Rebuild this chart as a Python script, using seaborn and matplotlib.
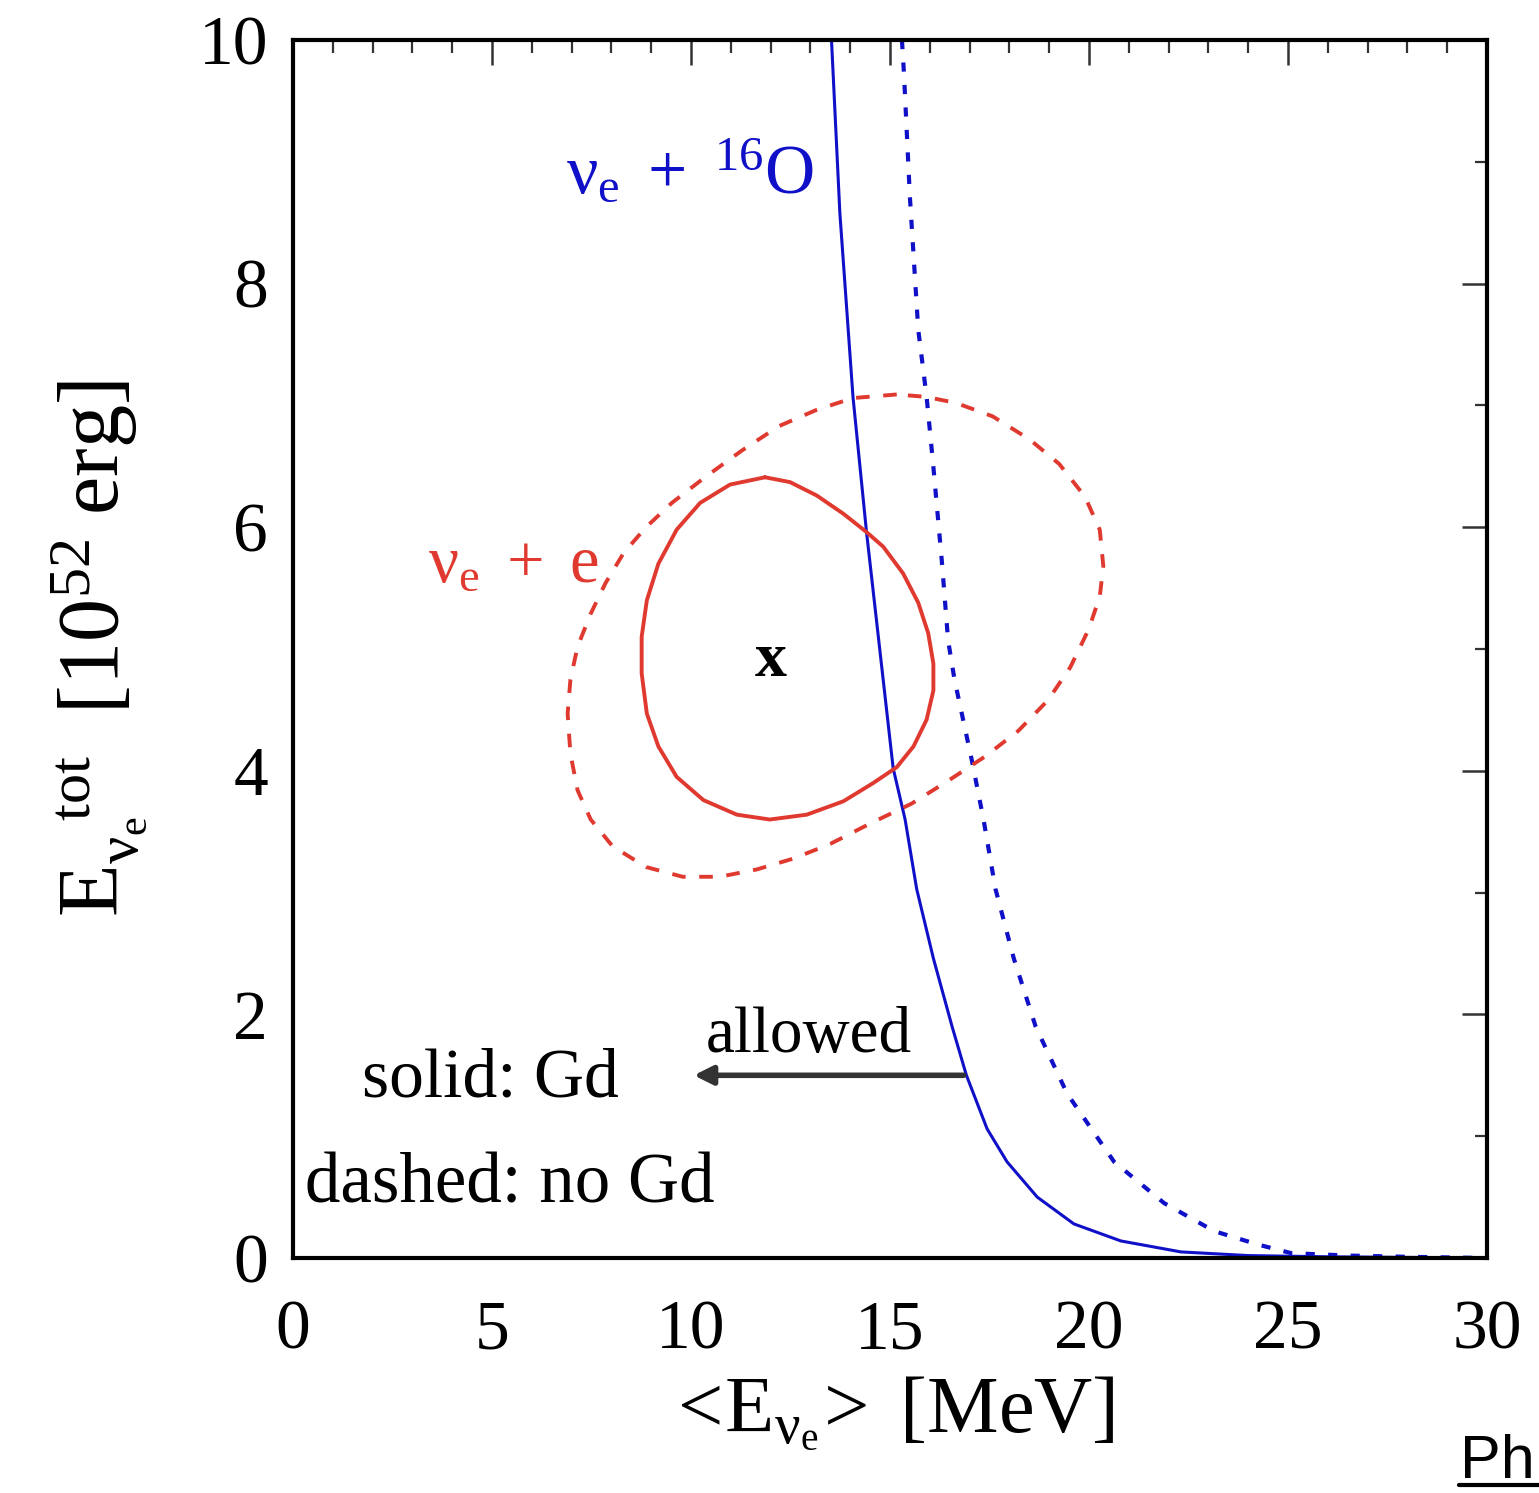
import matplotlib
matplotlib.use("Agg")
import matplotlib.pyplot as plt
import seaborn as sns
from matplotlib.lines import Line2D
from matplotlib.ticker import MultipleLocator

# === Data ===
# nu_e + 16O bound, with Gd (solid)
o16_gd_x = [13.53, 13.74, 14.07, 14.41, 15.08, 15.38, 15.67, 16.09, 16.56, 16.92, 17.44, 17.94, 18.70, 19.62,
            20.80, 22.31, 24.0, 26.0, 28.0, 30.0]
o16_gd_y = [10.0, 8.58, 7.07, 5.96, 4.02, 3.60, 3.03, 2.46, 1.90, 1.50, 1.06, 0.79, 0.50, 0.28,
            0.14, 0.05, 0.02, 0.01, 0.005, 0.0]

# nu_e + 16O bound, no Gd (dashed)
o16_nogd_x = [15.30, 15.35, 15.50, 15.71, 15.92, 16.08, 16.30, 16.46, 16.62, 17.06, 17.35, 17.65, 18.11, 18.66,
              19.45, 20.63, 21.89, 23.15, 24.25, 25.08, 26.5, 28.0, 30.0]
o16_nogd_y = [10.0, 9.73, 8.71, 7.62, 7.07, 6.53, 5.73, 5.07, 4.75, 4.08, 3.60, 3.03, 2.46, 1.90,
              1.35, 0.79, 0.45, 0.22, 0.11, 0.04, 0.02, 0.01, 0.0]

# nu_e + e contour, with Gd (solid)
es_gd_x = [11.86, 10.98, 10.23, 9.64, 9.18, 8.89, 8.76, 8.76, 8.89, 9.18, 9.64, 10.31, 11.15, 11.98, 12.91,
           13.83, 14.58, 15.17, 15.59, 15.92, 16.09, 16.09, 15.96, 15.71, 15.33, 14.83, 14.41, 13.83, 13.16,
           12.49, 11.86]
es_gd_y = [6.41, 6.35, 6.20, 5.98, 5.70, 5.40, 5.10, 4.80, 4.47, 4.20, 3.95, 3.76, 3.64, 3.60, 3.64,
           3.75, 3.90, 4.03, 4.20, 4.42, 4.66, 4.88, 5.13, 5.38, 5.62, 5.84, 5.96, 6.11, 6.26,
           6.37, 6.41]

# nu_e + e contour, no Gd (dashed)
es_nogd_x = [15.17, 14.06, 13.13, 12.21, 11.28, 10.35, 9.52, 8.87, 8.31, 7.85, 7.48, 7.15, 6.97, 6.90, 6.97, 7.15,
             7.48, 8.03, 8.87, 9.79, 10.72, 11.65, 12.58, 13.50, 14.52, 15.54, 16.47, 17.40, 18.23, 18.97, 19.53,
             19.99, 20.27, 20.36, 20.27, 19.90, 19.25, 18.51, 17.58, 16.66, 15.91, 15.17]
es_nogd_y = [7.09, 7.06, 6.96, 6.83, 6.63, 6.41, 6.20, 6.00, 5.79, 5.54, 5.29, 5.02, 4.75, 4.47, 4.14, 3.84,
             3.60, 3.38, 3.21, 3.13, 3.13, 3.19, 3.28, 3.40, 3.57, 3.73, 3.92, 4.12, 4.33, 4.58, 4.85,
             5.16, 5.43, 5.68, 5.98, 6.25, 6.52, 6.72, 6.91, 7.02, 7.07, 7.09]

best_fit = (12.0, 4.9)
allowed_y = 1.5
allowed_from = 16.92
allowed_to = 10.0

x_ticks = [0, 5, 10, 15, 20, 25, 30]
y_ticks = [0, 2, 4, 6, 8, 10]

blue = "#1010c8"
red = "#e03a30"

sns.set_theme(style="white")
plt.rcParams['font.family'] = ['Liberation Serif', 'DejaVu Serif']
plt.rcParams['mathtext.fontset'] = 'custom'
plt.rcParams['mathtext.rm'] = 'Liberation Serif'
plt.rcParams['mathtext.it'] = 'Liberation Serif:italic'
plt.rcParams['mathtext.bf'] = 'Liberation Serif:bold'
plt.rcParams['text.color'] = 'black'
plt.rcParams['axes.labelcolor'] = 'black'
plt.rcParams['xtick.labelcolor'] = 'black'
plt.rcParams['ytick.labelcolor'] = 'black'

fig = plt.figure(figsize=(15.39, 14.93), dpi=100)
ax = fig.add_axes([0.1904, 0.1574, 0.7758, 0.8158])

sns.lineplot(x=o16_gd_x, y=o16_gd_y, sort=False, estimator=None, color=blue, lw=2.2, ax=ax)
sns.lineplot(x=o16_nogd_x, y=o16_nogd_y, sort=False, estimator=None, color=blue, lw=3.0,
             linestyle=(0, (2.2, 3.2)), ax=ax)
sns.lineplot(x=es_gd_x, y=es_gd_y, sort=False, estimator=None, color=red, lw=2.8, ax=ax)
sns.lineplot(x=es_nogd_x, y=es_nogd_y, sort=False, estimator=None, color=red, lw=2.8,
             linestyle=(0, (3.5, 3.5)), ax=ax)
for ln in ax.get_lines():
    ln.set_solid_joinstyle('round')

ax.set_xlim(0, 30)
ax.set_ylim(0, 10)
ax.set_xticks(x_ticks)
ax.set_yticks(y_ticks)
ax.xaxis.set_minor_locator(MultipleLocator(1))
ax.yaxis.set_minor_locator(MultipleLocator(1))
ax.tick_params(which='both', direction='in', top=True, right=True, color='#333333')
ax.tick_params(which='major', length=18, width=1.8, labelsize=50, labelcolor='black')
ax.tick_params(which='minor', length=9, width=1.6)
ax.tick_params(axis='x', which='major', pad=30)
ax.tick_params(axis='y', which='major', pad=18)
for s in ax.spines.values():
    s.set_linewidth(3)
    s.set_color('black')

ax.set_xlabel(r'$\mathrm{<\!E_{ν_e}\!>\ [MeV]}$', fontsize=58, labelpad=8)
ax.set_ylabel(r'$\mathrm{E_{ν_e}^{\ \ \ tot}\ \ [10^{52}\ erg]}$', fontsize=62, labelpad=36)

# annotations
ax.text(13.1, 8.9, r'$\mathrm{ν_e\ +\ {}^{16}O}$', color=blue, fontsize=50, ha='right', va='center')
ax.text(7.7, 5.69, r'$\mathrm{ν_e\ +\ e}$', color=red, fontsize=48, ha='right', va='center')
ax.text(best_fit[0], best_fit[1], 'x', fontsize=46, fontweight='bold', ha='center', va='center')
ax.annotate('', xy=(allowed_to, allowed_y), xytext=(allowed_from, allowed_y),
            arrowprops=dict(arrowstyle='-|>', color='#333333', lw=4, mutation_scale=28))
ax.text(12.95, 1.58, 'allowed', fontsize=47, ha='center', va='bottom')
ax.text(4.95, 1.46, 'solid: Gd', fontsize=50, ha='center', va='center')
ax.text(5.45, 0.6, 'dashed: no Gd', fontsize=51, ha='center', va='center')

fig.text(1460 / 1539, 1 - 1478 / 1493, 'Ph', fontfamily='Liberation Sans', fontsize=44, va='baseline')
fig.add_artist(Line2D([1459 / 1539, 1.0], [1 - 1485 / 1493] * 2, color='black', lw=3,
                      transform=fig.transFigure))

fig.savefig('out.png', dpi=100)
